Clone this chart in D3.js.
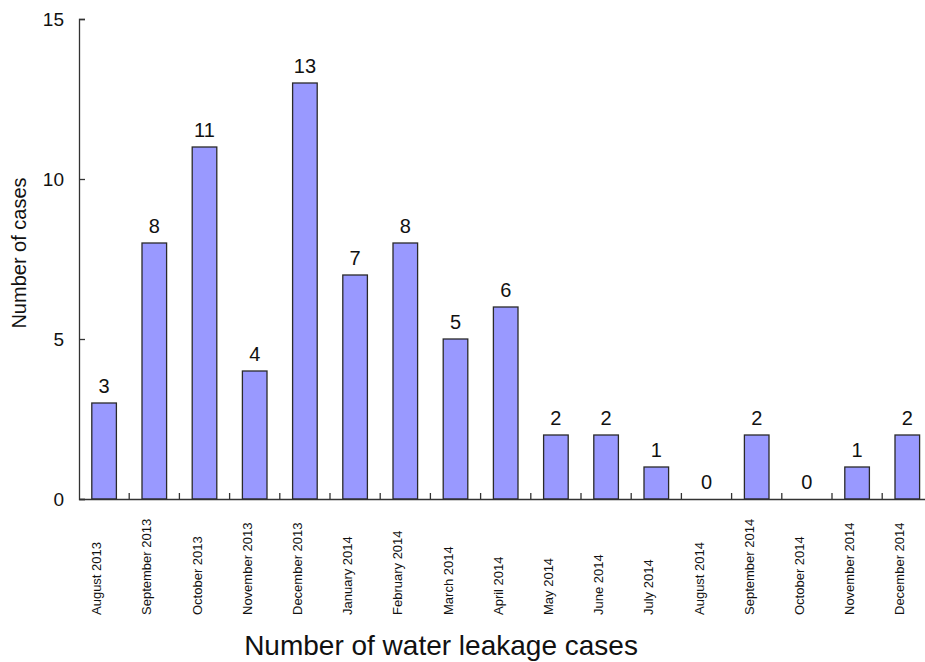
<!DOCTYPE html>
<html>
<head>
<meta charset="utf-8">
<script src="https://cdn.jsdelivr.net/npm/d3@7"></script>
<style>
  body { margin: 0; background: #fff; }
  svg { display: block; font-family: "Liberation Sans", Arial, sans-serif; }
</style>
</head>
<body>
<div id="root"></div>
<script>
const months = [
  "August 2013", "September 2013", "October 2013", "November 2013",
  "December 2013", "January 2014", "February 2014", "March 2014",
  "April 2014", "May 2014", "June 2014", "July 2014", "August 2014",
  "September 2014", "October 2014", "November 2014", "December 2014",
];
const cases = [3, 8, 11, 4, 13, 7, 8, 5, 6, 2, 2, 1, 0, 2, 0, 1, 2];
const yTicks = [0, 5, 10, 15];

barChart(window.d3);

function barChart(d3) {
  const width = 925;
  const height = 662;
  const left = 79;
  const step = 50.2;
  const axisY = 499;
  const topY = 19;

  const svg = d3.select("#root").append("svg")
    .attr("width", width)
    .attr("height", height);

  const x = d3.scaleBand()
    .domain(months)
    .range([left, left + step * months.length])
    .paddingInner(0.51)
    .paddingOuter(0.255);

  const y = d3.scaleLinear()
    .domain([0, 15])
    .range([axisY, topY]);

  const data = months.map((m, i) => ({ month: m, value: cases[i] }));

  // bars
  svg.append("g")
    .selectAll("rect")
    .data(data)
    .join("rect")
    .attr("x", d => x(d.month))
    .attr("y", d => y(d.value))
    .attr("width", x.bandwidth())
    .attr("height", d => y(0) - y(d.value))
    .attr("fill", "#9999ff")
    .attr("stroke", "#2a2a2a")
    .attr("stroke-width", 1.3);

  // value labels
  svg.append("g")
    .selectAll("text")
    .data(data)
    .join("text")
    .attr("x", d => x(d.month) + x.bandwidth() / 2)
    .attr("y", d => y(d.value) - 10)
    .attr("text-anchor", "middle")
    .attr("font-size", 20)
    .attr("fill", "#111")
    .text(d => d.value);

  // y axis
  const yAxis = svg.append("g")
    .attr("transform", `translate(${left},0)`)
    .call(d3.axisLeft(y).tickValues(yTicks).tickSize(-6).tickPadding(15));
  yAxis.select(".domain").attr("stroke", "#333").attr("stroke-width", 1.3);
  yAxis.selectAll(".tick line").attr("stroke", "#333").attr("stroke-width", 1.3);
  yAxis.selectAll(".tick text")
    .attr("font-size", 19)
    .attr("font-family", "Liberation Sans, Arial, sans-serif")
    .attr("fill", "#111");

  // x axis line
  const xAxis = svg.append("g")
    .attr("transform", `translate(0,${axisY})`)
    .call(d3.axisBottom(x).tickSize(0).tickFormat(""));
  xAxis.select(".domain").attr("stroke", "#333").attr("stroke-width", 1.3);

  // separator ticks between the months
  const gap = x.step() - x.bandwidth();
  svg.append("g")
    .selectAll("line")
    .data(months.slice(1))
    .join("line")
    .attr("x1", d => x(d) - gap / 2)
    .attr("x2", d => x(d) - gap / 2)
    .attr("y1", axisY)
    .attr("y2", axisY - 6)
    .attr("stroke", "#333")
    .attr("stroke-width", 1.3);

  // month labels
  svg.append("g")
    .selectAll("text")
    .data(months)
    .join("text")
    .attr("transform", d => `translate(${x(d) + x.bandwidth() / 2 - 3},615) rotate(-90)`)
    .attr("text-anchor", "start")
    .attr("font-size", 13)
    .attr("fill", "#111")
    .text(d => d);

  // axis titles
  svg.append("text")
    .attr("transform", "translate(26,253) rotate(-90)")
    .attr("text-anchor", "middle")
    .attr("font-size", 20)
    .attr("fill", "#111")
    .text("Number of cases");

  svg.append("text")
    .attr("x", 441)
    .attr("y", 655)
    .attr("text-anchor", "middle")
    .attr("font-size", 28)
    .attr("fill", "#111")
    .text("Number of water leakage cases");
}
</script>
</body>
</html>
